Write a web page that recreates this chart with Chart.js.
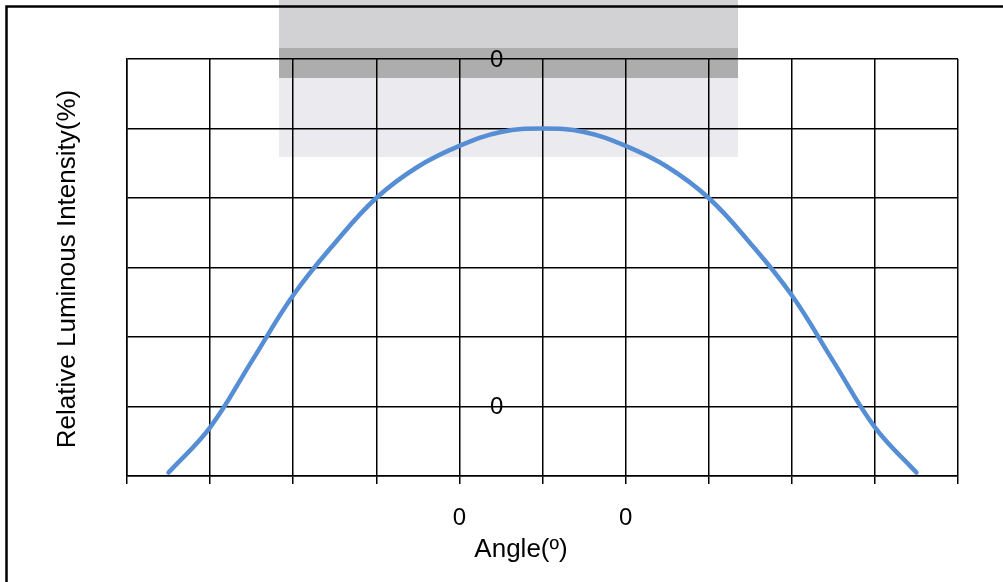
<!DOCTYPE html>
<html>
<head>
<meta charset="utf-8">
<script src="https://cdn.jsdelivr.net/npm/chart.js@4.4.1/dist/chart.umd.min.js"></script>
<style>
  html, body { margin: 0; padding: 0; background: #fff; }
</style>
</head>
<body>
<canvas id="grafico" width="1003" height="582"></canvas>
<script>
// datos
var angulos = [-90, -80, -70, -60, -50, -40, -30, -20, -10, 0, 10, 20, 30, 40, 50, 60, 70, 80, 90];
var intensidad = [1, 14, 33, 52, 67, 80, 89, 95, 99, 100, 99, 95, 89, 80, 67, 52, 33, 14, 1];
var xTicks = [-100, -80, -60, -40, -20, 0, 20, 40, 60, 80, 100];
var xTickLabels = ["", "", "", "", "0", "", "0", "", "", "", ""];
var notaX = [-11, -11];
var notaY = [120, 20];
var notaTexto = ["0", "0"];

var fuente = "'Liberation Sans', Arial, sans-serif";

var decoracion = {
  id: "decoracion",
  beforeDraw: function (chart) {
    var c = chart.ctx;
    c.save();
    c.fillStyle = "#fff";
    c.fillRect(0, 0, chart.width, chart.height);
    // bloque gris de la imagen rota arriba
    c.fillStyle = "#d2d2d4";
    c.fillRect(279, 0, 459, 48);
    c.fillStyle = "#adadad";
    c.fillRect(279, 48, 459, 30);
    c.fillStyle = "#ebebef";
    c.fillRect(279, 78, 459, 79);
    c.restore();
  },
  afterDraw: function (chart) {
    var c = chart.ctx;
    var sx = chart.scales.x, sy = chart.scales.y;
    c.save();
    // marco exterior
    c.strokeStyle = "#000";
    c.lineWidth = 2.5;
    c.strokeRect(6.5, 6.5, 1100, 700);

    c.fillStyle = "#000";
    c.textAlign = "center";
    c.textBaseline = "middle";
    c.font = "24px " + fuente;
    for (var i = 0; i < notaTexto.length; i++) {
      c.fillText(notaTexto[i], sx.getPixelForValue(notaX[i]), sy.getPixelForValue(notaY[i]) + 1);
    }

    c.font = "26px " + fuente;
    c.fillText("Angle(º)", 521, 550);

    c.translate(68, 269);
    c.rotate(-Math.PI / 2);
    c.fillText("Relative Luminous Intensity(%)", 0, 0);
    c.restore();
  }
};

var ctx = document.getElementById("grafico").getContext("2d");
var grafico = new Chart(ctx, {
  type: "line",
  data: {
    datasets: [{
      data: angulos.map(function (a, i) { return { x: a, y: intensidad[i] }; }),
      borderColor: "#558ed5",
      borderWidth: 4.5,
      borderCapStyle: "round",
      pointRadius: 0,
      tension: 0.4,
      fill: false
    }]
  },
  options: {
    responsive: false,
    animation: false,
    layout: { padding: { top: 59, right: 45, left: 0, bottom: 0 } },
    plugins: { legend: { display: false }, tooltip: { enabled: false } },
    scales: {
      x: {
        type: "linear",
        min: -100,
        max: 100,
        afterBuildTicks: function (s) {
          s.ticks = xTicks.map(function (v) { return { value: v }; });
        },
        afterFit: function (s) { s.height = 106; },
        grid: { color: "#000", lineWidth: 1.5, drawTicks: true, tickLength: 8, tickColor: "#000" },
        border: { color: "#000", width: 1.5 },
        ticks: {
          autoSkip: false,
          maxRotation: 0,
          padding: 20,
          color: "#000",
          font: { family: fuente, size: 24 },
          callback: function (v, i) { return xTickLabels[i]; }
        }
      },
      y: {
        min: 0,
        max: 120,
        afterFit: function (s) { s.width = 127; },
        grid: { color: "#000", lineWidth: 1.5, drawTicks: false },
        border: { color: "#000", width: 1.5 },
        ticks: { stepSize: 20, display: false }
      }
    }
  },
  plugins: [decoracion]
});
</script>
</body>
</html>
